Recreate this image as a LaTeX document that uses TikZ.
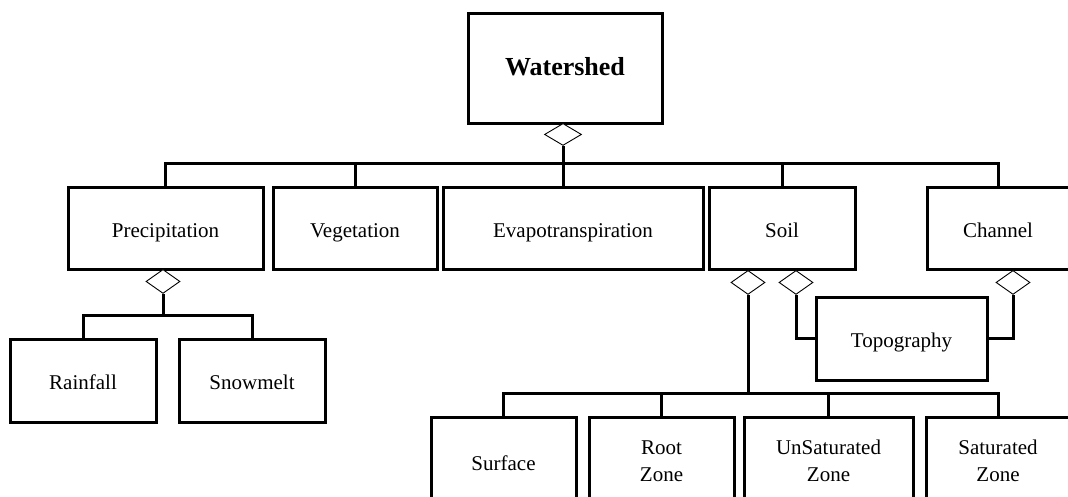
\documentclass[tikz,border=0pt]{standalone}
\usepackage{fontspec}
\setmainfont{Liberation Serif}
\usetikzlibrary{shapes.geometric}
\tikzset{
  cls/.style={draw,line width=3pt,fill=white,inner sep=0pt,align=center,
              minimum height=82pt,font=\fontsize{21}{27}\selectfont},
  one/.style={text height=21pt,text depth=3pt},
  agg/.style={diamond,draw,line width=0.9pt,fill=white,inner sep=0pt,
              minimum width=34pt,minimum height=24pt,anchor=north},
  ln/.style={line width=3pt},
  every picture/.style={line cap=butt,line join=miter}}
\begin{document}
\begin{tikzpicture}[x=1pt,y=-1pt]
  \useasboundingbox (0,0) rectangle (1068,496);
  \clip (0,0) rectangle (1068,496);
  % top
  \node[cls,minimum width=194pt,minimum height=110pt,text height=20pt,text depth=5pt,
        font=\fontsize{26}{30}\selectfont\bfseries] (ws) at (565,68){Watershed};
  \node[cls,one,minimum width=195pt] (prec) at (165.5,228){Precipitation};
  \node[cls,one,minimum width=164pt] (veg) at (355,228){Vegetation};
  \node[cls,one,minimum width=260pt] (evap) at (573,228){Evapotranspiration};
  \node[cls,one,minimum width=146pt] (soil) at (782,228){Soil};
  \node[cls,one,minimum width=142pt] (chan) at (998,228){Channel};
  \node[agg,minimum width=37pt,minimum height=22pt] (wd) at (563,123){};
  \coordinate (wbus) at (563,163);
  \draw[ln] (wd.south) -- (wd.south |- evap.north);
  \foreach \n in {prec,veg,soil,chan} \draw[ln] (\n.north) |- (wbus);
  % precipitation
  \node[cls,one,minimum width=146pt,minimum height=83pt] (rain) at (83,380.5){Rainfall};
  \node[cls,one,minimum width=146pt,minimum height=83pt] (snow) at (252,380.5){Snowmelt};
  \node[agg] (pd) at (163,269){};
  \coordinate (pbus) at (163,315);
  \draw[ln] (pd.south) -- (pbus);
  \foreach \n in {rain,snow} \draw[ln] (\n.north) |- (pbus);
  % soil and channel
  \node[cls,one,minimum width=171pt,minimum height=83pt] (topo) at (901.5,338.5){Topography};
  \node[agg] (sd1) at (748,270){};
  \node[agg] (sd2) at (796,270){};
  \node[agg] (cd) at (1013,270){};
  \draw[ln] (sd2.south) |- (topo.west);
  \draw[ln] (cd.south) |- (topo.east);
  \node[cls,one,minimum width=145pt,minimum height=88pt] (surf) at (503.5,461){Surface};
  \node[cls,minimum width=145pt,minimum height=88pt] (root) at (661.5,461){Root\\Zone};
  \node[cls,minimum width=169pt,minimum height=88pt] (unsat) at (828.5,461){UnSaturated\\Zone};
  \node[cls,minimum width=144pt,minimum height=88pt] (sat) at (998,461){Saturated\\Zone};
  \coordinate (sbus) at (748,393);
  \draw[ln] (sd1.south) -- (sbus);
  \foreach \n in {surf,root,unsat,sat} \draw[ln] (\n.north) |- (sbus);
\end{tikzpicture}
\end{document}
